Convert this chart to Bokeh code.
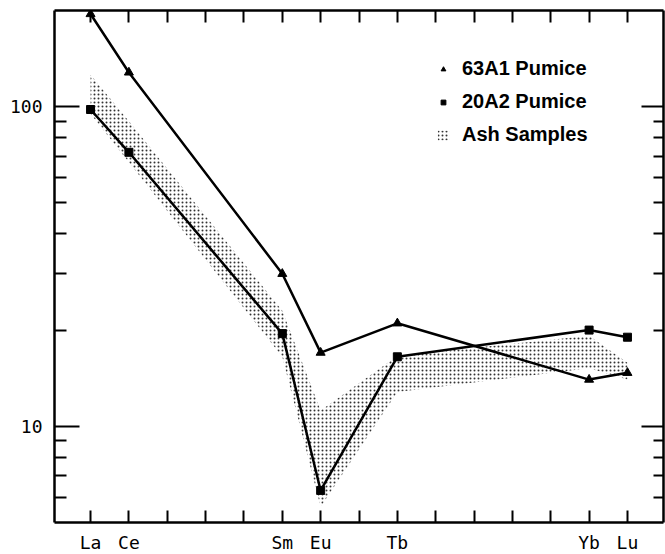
from bokeh.plotting import figure
from bokeh.models import (Range1d, LogAxis, LinearAxis, FixedTicker, Legend, LegendItem,
                          ColumnDataSource, CustomJSTickFormatter)
from bokeh.embed import file_html
from bokeh.resources import INLINE

# ---- data (chondrite-normalised REE) ----
elements = ["La", "Ce", "Sm", "Eu", "Tb", "Yb", "Lu"]
atomic_numbers = [57, 58, 62, 63, 65, 70, 71]
pumice_63A1 = [195, 128, 30, 17, 21, 14, 14.7]
pumice_20A2 = [98, 72, 19.5, 6.3, 16.5, 20, 19]
ash_upper = [126, 90, 23, 11.2, 16.6, 19.2, 15.8]
ash_lower = [95, 67, 16.5, 5.6, 12.8, 15.2, 14.0]
all_ree_numbers = list(range(57, 72))
y_major = [10, 100]
y_major_labels = ["10", "100"]
y_minor = [6, 7, 8, 9, 20, 30, 40, 50, 60, 70, 80, 90]

band_x = atomic_numbers + atomic_numbers[::-1]
band_y = ash_upper + ash_lower[::-1]

p = figure(frame_width=609, frame_height=512,
           x_range=Range1d(56.06, 71.94), y_range=Range1d(5, 200),
           y_axis_type="log", output_backend="svg", toolbar_location=None,
           min_border_left=54, min_border_right=2, min_border_top=10, min_border_bottom=30)
p.outline_line_color = None
p.xgrid.visible = False
p.ygrid.visible = False

band = p.patch(band_x, band_y, fill_alpha=0, line_color=None,
               hatch_pattern="dot", hatch_color="#333333", hatch_scale=4, hatch_weight=1.2)

src1 = ColumnDataSource(dict(x=atomic_numbers, y=pumice_63A1))
src2 = ColumnDataSource(dict(x=atomic_numbers, y=pumice_20A2))
p.line("x", "y", source=src1, line_color="black", line_width=2.5)
p.line("x", "y", source=src2, line_color="black", line_width=2.5)
tri = p.scatter("x", "y", source=src1, marker="triangle", size=9, color="black")
sq = p.scatter("x", "y", source=src2, marker="square", size=8, color="black")

# ---- axes ----
label_font = "DejaVu Sans Mono"
xa = p.xaxis[0]
xa.ticker = FixedTicker(ticks=all_ree_numbers)
xa.major_label_overrides = {n: (elements[atomic_numbers.index(n)] if n in atomic_numbers else "")
                            for n in all_ree_numbers}
xa.major_tick_in = 12
xa.major_tick_out = 0
xa.minor_tick_in = 0
xa.minor_tick_out = 0
xa.major_label_standoff = 9
xa.major_label_text_font = label_font
xa.major_label_text_font_size = "18px"
xa.major_label_text_color = "black"

ya = p.yaxis[0]
ya.ticker = FixedTicker(ticks=y_major, minor_ticks=y_minor)
ya.major_label_overrides = dict(zip(y_major, y_major_labels))
ya.major_tick_in = 25
ya.major_tick_out = 0
ya.minor_tick_in = 12
ya.minor_tick_out = 0
ya.major_label_standoff = 12
ya.major_label_text_font = label_font
ya.major_label_text_font_size = "18px"
ya.major_label_text_color = "black"

blank = CustomJSTickFormatter(code="return ''")

top = LinearAxis(ticker=FixedTicker(ticks=all_ree_numbers), formatter=blank)
top.major_tick_in = 12
top.major_tick_out = 0
top.major_label_text_font_size = "8px"
top.major_label_standoff = 0
p.add_layout(top, "above")

right = LogAxis(ticker=FixedTicker(ticks=y_major, minor_ticks=y_minor), formatter=blank)
right.major_tick_in = 22
right.major_tick_out = 0
right.minor_tick_in = 10
right.minor_tick_out = 0
right.major_label_text_font_size = "8px"
right.major_label_standoff = 0
p.add_layout(right, "right")

for ax in (xa, ya, top, right):
    ax.axis_line_width = 2.5
    ax.axis_line_color = "black"
    ax.major_tick_line_width = 2
    ax.minor_tick_line_width = 2
    ax.major_tick_line_color = "black"
    ax.minor_tick_line_color = "black"

legend = Legend(items=[LegendItem(label="63A1 Pumice", renderers=[tri]),
                       LegendItem(label="20A2 Pumice", renderers=[sq]),
                       LegendItem(label="Ash Samples", renderers=[band])],
                location=(382, 376), border_line_color=None, background_fill_alpha=0,
                label_text_font="Liberation Sans", label_text_font_style="bold",
                label_text_font_size="20px", label_text_color="black",
                glyph_width=14, glyph_height=12, label_height=20,
                spacing=10, label_standoff=12, padding=0, margin=0)
p.add_layout(legend)

open("out.html", "w").write(file_html(p, INLINE))
